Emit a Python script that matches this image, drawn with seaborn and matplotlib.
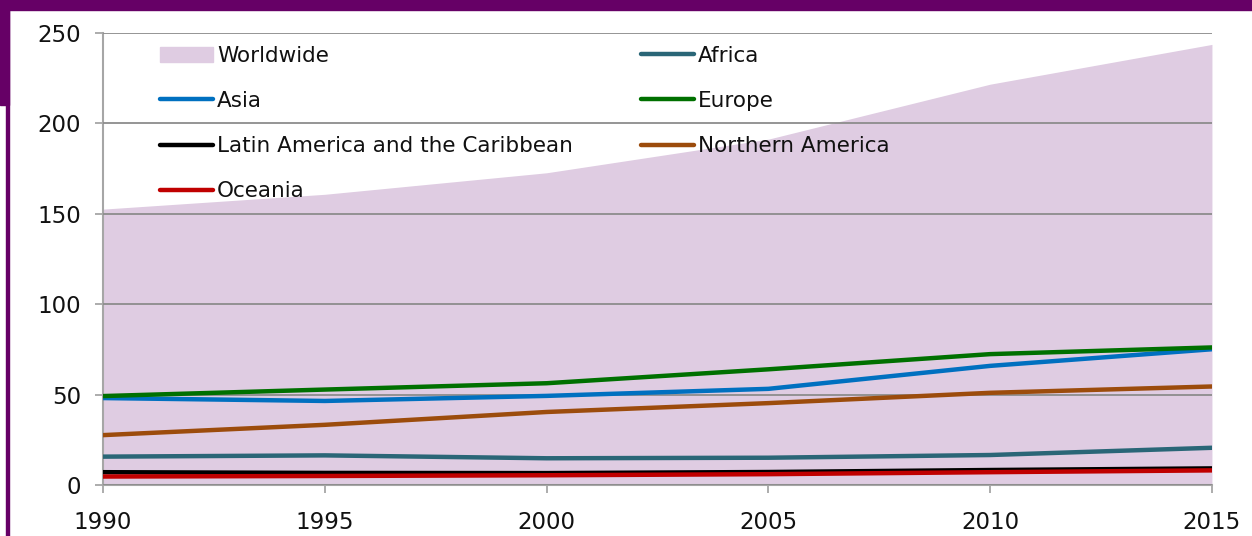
import numpy as np
import pandas as pd
import seaborn as sns
import matplotlib.pyplot as plt
from matplotlib.patches import Rectangle, Patch
from matplotlib.lines import Line2D

# international migrant stock (millions)
years = [1990, 1995, 2000, 2005, 2010, 2015]
worldwide = [152.6, 160.8, 172.7, 191.3, 221.7, 243.7]
africa = [15.7, 16.4, 14.8, 15.1, 16.6, 20.6]
asia = [48.1, 46.5, 49.3, 53.2, 65.9, 75.1]
europe = [49.2, 52.8, 56.3, 64.0, 72.4, 76.1]
latam = [7.1, 6.7, 6.6, 7.2, 8.3, 9.2]
north_am = [27.6, 33.3, 40.4, 45.3, 51.0, 54.5]
oceania = [4.7, 5.0, 5.4, 6.0, 7.1, 8.1]

regions = {
    'Africa': africa,
    'Asia': asia,
    'Europe': europe,
    'Latin America and the Caribbean': latam,
    'Northern America': north_am,
    'Oceania': oceania,
}
colors = {
    'Africa': '#2a6677',
    'Asia': '#0070c0',
    'Europe': '#007000',
    'Latin America and the Caribbean': '#000000',
    'Northern America': '#9c4c0c',
    'Oceania': '#c00000',
}
fill_color = '#dfcce2'
purple = '#660066'

df = pd.DataFrame(
    [(r, y, v) for r, vals in regions.items() for y, v in zip(years, vals)],
    columns=['Region', 'Year', 'Migrants'],
)

sns.set_style('white')
plt.rcParams['font.family'] = ['DejaVu Sans']
plt.rcParams['text.color'] = '#111111'

fig = plt.figure(figsize=(12.52, 5.36), dpi=100)
ax = fig.add_axes([0.0823, 0.0951, 0.968 - 0.0823, 0.9384 - 0.0951])

ax.fill_between(years, worldwide, 0, color=fill_color, linewidth=0, zorder=1)
sns.lineplot(data=df, x='Year', y='Migrants', hue='Region', palette=colors,
             linewidth=3.2, ax=ax, legend=False, zorder=3)
for l in ax.get_lines():
    l.set_solid_capstyle('round')

ax.set_xlim(1990, 2015)
ax.set_ylim(0, 250)
ax.set_xticks(years)
ax.set_yticks(range(0, 251, 50))
ax.set_xlabel('')
ax.set_ylabel('')
ax.grid(axis='y', color='#8c8c8c', linewidth=1.3)
ax.set_axisbelow(False)
for s in ['top', 'right']:
    ax.spines[s].set_visible(False)
for s in ['left', 'bottom']:
    ax.spines[s].set_color('#a6a6a6')
    ax.spines[s].set_linewidth(1.5)
ax.tick_params(axis='both', which='both', direction='out', length=6, width=1.3,
               color='#a6a6a6', labelcolor='#111111', labelsize=16.5, bottom=True, left=True)
ax.tick_params(axis='y', pad=10)
ax.tick_params(axis='x', pad=13)

# legend in row order: Worldwide, Africa / Asia, Europe / ...
def h(name):
    return Line2D([0], [0], color=colors[name], linewidth=3.2, solid_capstyle='round')

handles = [Patch(color=fill_color), h('Asia'), h('Latin America and the Caribbean'), h('Oceania'),
           h('Africa'), h('Europe'), h('Northern America')]
labels = ['Worldwide', 'Asia', 'Latin America and the Caribbean', 'Oceania',
          'Africa', 'Europe', 'Northern America']
ax.legend(handles, labels, ncol=2, loc='upper left', bbox_to_anchor=(0.0514, 0.972),
          frameon=False, fontsize=15.5, handlelength=2.45, handletextpad=0.2,
          columnspacing=3.17, labelspacing=1.17, borderpad=0, borderaxespad=0)

# purple frame decoration
fig.patches.append(Rectangle((0, 1 - 10 / 536), 1, 10 / 536, transform=fig.transFigure,
                             color=purple, zorder=0))
fig.patches.append(Rectangle((0, 1 - 105 / 536), 9 / 1252, 105 / 536, transform=fig.transFigure,
                             color=purple, zorder=0))
fig.patches.append(Rectangle((6 / 1252, 0), 3 / 1252, 1, transform=fig.transFigure,
                             color=purple, zorder=0))

fig.savefig('out.png', dpi=100)
